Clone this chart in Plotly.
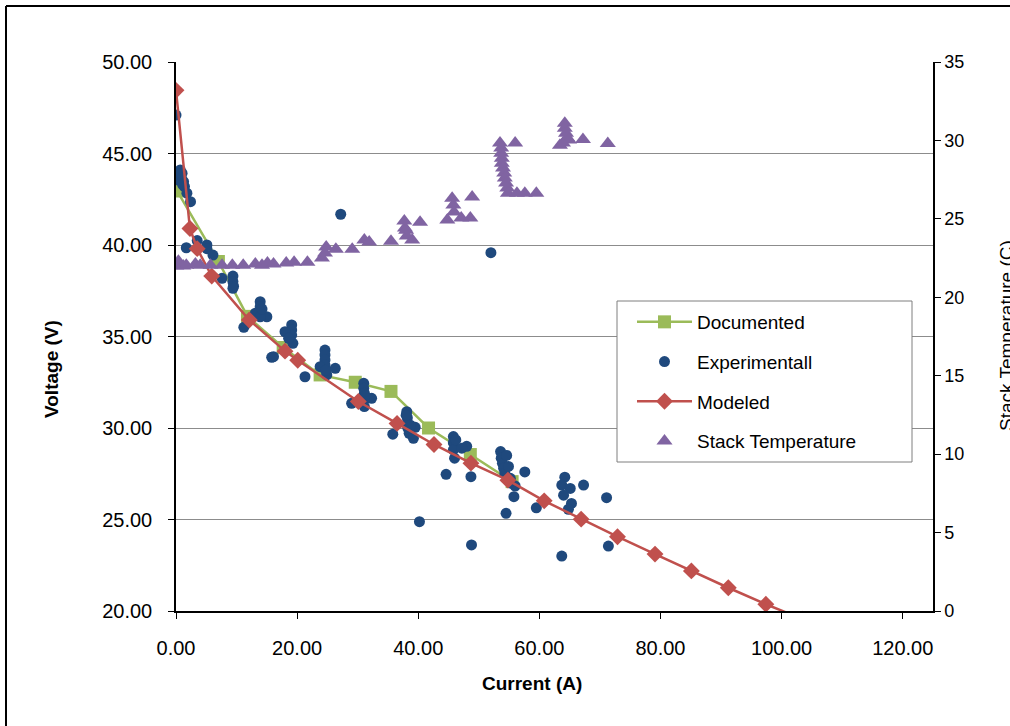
import plotly.graph_objects as go

# Documented polarization curve
doc_current = [0.2, 7.0, 11.8, 17.7, 23.8, 29.6, 35.5, 41.7, 48.6, 55.5]
doc_voltage = [42.95, 39.1, 36.1, 34.4, 32.9, 32.5, 32.0, 30.0, 28.55, 27.07]

# Experimental measurements
exp_current = [0.0, 0.7, 1.0, 0.9, 1.25, 0.4, 1.4, 1.8, 2.4, 0.6, 1.1,
               1.7, 3.5, 5.1, 5.1, 6.1, 7.6, 9.4, 9.4, 9.5, 9.4,
               11.2, 13.9, 13.9, 13.9, 13.1, 15.0, 13.9, 14.2, 15.8,
               19.1, 19.1, 19.1, 19.3, 18.0, 18.6, 16.1, 21.3,
               24.6, 24.6, 24.6, 24.6, 23.8, 26.3, 24.9, 24.7, 27.2,
               31.0, 31.0, 31.1, 31.1, 31.1, 29.0, 32.3, 31.2,
               38.1, 38.2, 38.2, 38.3, 38.5, 39.2, 39.5, 35.8, 38.0, 38.7, 40.2,
               45.8, 45.8, 45.8, 46.0, 48.0, 47.2, 46.2, 44.6, 48.7, 48.8,
               53.6, 53.7, 53.9, 54.1, 54.3, 55.2, 55.4, 56.0, 54.6, 54.9,
               57.6, 55.8, 54.5, 52.0,
               59.5, 63.7, 64.2, 63.7, 65.1, 64.0, 65.3, 64.8, 67.3, 71.1, 71.4]
exp_voltage = [47.1, 44.1, 43.92, 43.64, 43.46, 43.55, 43.19, 42.83, 42.37, 43.9, 43.3,
               39.85, 40.24, 40.0, 39.8, 39.45, 38.18, 38.3, 38.0, 37.75, 37.63,
               35.5, 36.9, 36.63, 36.36, 36.27, 36.08, 36.08, 36.5, 33.86,
               35.63, 35.36, 35.08, 34.63, 35.26, 34.9, 33.9, 32.8,
               34.26, 33.99, 33.72, 33.44, 33.35, 33.26, 32.9, 33.15, 41.68,
               32.44, 32.17, 31.9, 31.54, 31.17, 31.35, 31.62, 31.75,
               30.89, 30.56, 30.26, 29.98, 29.71, 29.44, 30.04, 29.66, 30.7, 30.15, 24.88,
               29.53, 29.2, 28.8, 28.35, 29.0, 28.9, 29.35, 27.47, 27.34, 23.61,
               28.71, 28.35, 28.07, 27.8, 27.52, 27.25, 26.98, 26.83, 28.5, 27.9,
               27.6, 26.25, 25.34, 39.58,
               25.64, 23.0, 27.31, 26.88, 26.7, 26.33, 25.88, 25.56, 26.88, 26.19, 23.55]

# Modeled polarization curve
mod_current = [0.0, 2.3, 3.5, 5.9, 12.1, 18.0, 20.1, 30.1, 36.5, 42.6,
               48.7, 54.8, 60.8, 66.9, 72.9, 79.1, 85.1, 91.2, 97.4, 103.5]
mod_voltage = [48.45, 40.9, 39.8, 38.3, 35.9, 34.2, 33.7, 31.45, 30.25, 29.1,
               28.08, 27.15, 26.02, 25.02, 24.06, 23.11, 22.19, 21.27, 20.37, 19.55]

# Stack temperature (secondary axis)
temp_current = [0.05, 0.4, 0.7, 1.2, 1.7, 3.2, 4.0, 5.7, 7.6, 9.3, 11.1,
                13.1, 14.2, 15.1, 16.1, 18.2, 19.5, 21.7,
                24.1, 24.6, 24.8, 26.4, 29.1, 31.1, 31.9, 35.5,
                37.7, 37.8, 38.0, 38.1, 39.0, 40.3,
                44.8, 45.6, 45.8, 45.9, 47.1, 48.6, 48.9,
                53.5, 53.7, 53.7, 53.8, 53.8, 54.0, 54.2, 54.3, 54.5, 54.7, 54.8,
                56.0, 56.3, 57.6, 59.5,
                63.4, 63.9, 64.2, 64.2, 64.4, 64.6, 64.9, 67.2, 71.3]
temp_value = [21.99, 22.3, 22.05, 21.99, 22.05, 22.12, 22.05, 22.05, 22.05, 22.05, 22.05,
              22.12, 22.05, 22.18, 22.12, 22.18, 22.24, 22.24,
              22.5, 22.82, 23.2, 23.07, 23.07, 23.65, 23.52, 23.58,
              24.86, 24.41, 24.28, 23.9, 23.65, 24.79,
              24.92, 26.32, 25.88, 25.43, 25.05, 25.05, 26.39,
              29.83, 29.51, 29.19, 28.87, 28.55, 28.24, 27.92, 27.6, 27.28, 26.96, 26.64,
              29.83, 26.64, 26.64, 26.64,
              29.7, 29.83, 31.1, 30.78, 30.46, 30.15, 30.02, 30.06, 29.8]

x_ticks = [0, 20, 40, 60, 80, 100, 120]

FONT = "Liberation Sans, Arial, sans-serif"
GREEN = "#9BBB59"
BLUE = "#1F497D"
RED = "#C0504D"
PURPLE = "#8064A2"

fig = go.Figure()

fig.add_trace(go.Scatter(
    x=doc_current, y=doc_voltage, name="Documented", mode="lines+markers",
    line=dict(color=GREEN, width=2.5),
    marker=dict(symbol="square", size=13, color=GREEN),
    legendgroup="a",
))
fig.add_trace(go.Scatter(
    x=exp_current, y=exp_voltage, name="Experimentall", mode="markers",
    marker=dict(symbol="circle", size=11, color=BLUE),
    legendgroup="b",
))
fig.add_trace(go.Scatter(
    x=mod_current, y=mod_voltage, name="Modeled", mode="lines+markers",
    line=dict(color=RED, width=2.5),
    marker=dict(symbol="diamond", size=13, color=RED),
    legendgroup="c",
))
fig.add_trace(go.Scatter(
    x=temp_current, y=temp_value, name="Stack Temperature", mode="markers",
    marker=dict(symbol="triangle-up", size=14, color=PURPLE),
    yaxis="y2", legendgroup="d",
))

# plot area in pixels: x 176..933, y 62..611
L, R, T, B = 176, 933, 62, 611
W, H = 1010, 726
pw, ph = R - L, B - T


def px(xp):
    return (xp - L) / pw


def py(yp):
    return (B - yp) / ph


grid = "#8C8C8C"
TICK_SIZE = 20

fig.update_layout(
    width=W, height=H,
    margin=dict(l=L, r=W - R, t=T, b=H - B),
    paper_bgcolor="white", plot_bgcolor="white",
    font=dict(family=FONT, size=18, color="black"),
    showlegend=True,
    legend=dict(
        x=px(632), y=py(303), xanchor="left", yanchor="top",
        bgcolor="rgba(0,0,0,0)", borderwidth=0,
        font=dict(family=FONT, size=19, color="black"),
        tracegroupgap=12, traceorder="grouped", itemwidth=55,
    ),
    xaxis=dict(
        range=[0, 125], tickvals=x_ticks, tickformat=".2f",
        showgrid=False, zeroline=False,
        showline=True, linecolor="black", linewidth=1.5,
        ticks="outside", ticklen=6, tickcolor="black",
        tickfont=dict(family=FONT, size=TICK_SIZE),
        ticklabelstandoff=12,
    ),
    yaxis=dict(
        range=[20, 50], dtick=5, tickformat=".2f",
        showgrid=True, gridcolor=grid, gridwidth=1, zeroline=False,
        showline=True, linecolor="black", linewidth=1.5,
        ticks="outside", ticklen=6, tickcolor="black",
        tickfont=dict(family=FONT, size=TICK_SIZE),
        ticklabelstandoff=12,
    ),
    yaxis2=dict(
        range=[0, 35], dtick=5, overlaying="y", side="right",
        showgrid=False, zeroline=False,
        showline=True, linecolor="black", linewidth=1.5,
        ticks="outside", ticklen=6, tickcolor="black",
        tickfont=dict(family=FONT, size=18),
    ),
)

# outer chart frame (left and top edges; the rest lies off the page)
fig.add_shape(type="line", xref="paper", yref="paper",
              x0=px(6), x1=px(6), y0=py(760), y1=py(6),
              line=dict(color="black", width=2), layer="below")
fig.add_shape(type="line", xref="paper", yref="paper",
              x0=px(6), x1=px(1060), y0=py(6), y1=py(6),
              line=dict(color="black", width=2), layer="below")
# legend box
fig.add_shape(type="rect", xref="paper", yref="paper",
              x0=px(617), x1=px(912), y0=py(462), y1=py(301),
              line=dict(color="#7F7F7F", width=1), fillcolor="white", layer="above")

# axis titles
fig.add_annotation(text="<b>Current (A)</b>", xref="paper", yref="paper",
                   x=px(532), y=py(683), xanchor="center", yanchor="middle",
                   showarrow=False, font=dict(family=FONT, size=19))
fig.add_annotation(text="<b>Voltage (V)</b>", xref="paper", yref="paper",
                   x=px(51), y=py(369), xanchor="center", yanchor="middle",
                   showarrow=False, textangle=-90, font=dict(family=FONT, size=19))
fig.add_annotation(text="Stack Temperature (C)", xref="paper", yref="paper",
                   x=px(1006), y=py(336), xanchor="center", yanchor="middle",
                   showarrow=False, textangle=-90, font=dict(family=FONT, size=19))

fig.write_html("out.html")
